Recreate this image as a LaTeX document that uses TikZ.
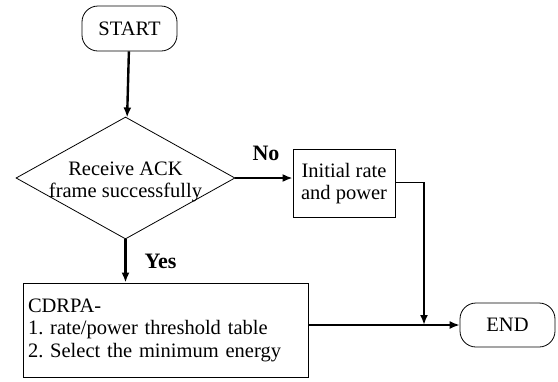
\documentclass[tikz,border=0pt]{standalone}
\usepackage{fontspec}
\setmainfont{Liberation Serif}
\usetikzlibrary{shapes.geometric,arrows.meta}
\begin{document}
\frenchspacing
\begin{tikzpicture}
          [x=1pt,y=-1pt,font=\fontsize{20.5}{22.5}\selectfont,
           every node/.style={draw, line width=0.8pt, inner sep = 0pt},
           term/.style={rounded corners=16pt, minimum width = 95pt},
           box/.style={rectangle},
           flow/.style={line width=2.4pt, -{Latex[length=10pt,width=8pt]}},
           lbl/.style={draw=none, font=\fontsize{22}{24}\selectfont\bfseries}]
        \useasboundingbox (0,0) rectangle (558,381);
        \node[term, minimum height = 45pt] (start) at (129.5,28.5) {START};
        \node[diamond, minimum width = 219pt, minimum height = 122pt] (dec) at (125.5,178) {};
        \node[draw=none, align=center] (dectext) at (125.5,182) {Receive ACK\\frame successfully};
        \node[box, minimum width = 102pt, minimum height = 68pt, align=center] (init) at (344,183.5)
          {Initial rate\\and power};
        \node[box, minimum width = 285pt, minimum height = 94pt, align=left, text width = 275pt] (cdrpa) at (165.5,330)
          {CDRPA-\\1. rate/power threshold table\\2. Select the minimum energy};
        \node[term, minimum height = 44pt] (end) at (507.5,325) {END};
        \coordinate (join) at (424,325);

        \node[lbl] (no) at (266,153) {No};
        \node[lbl] (yes) at (160.5,261) {Yes};

        \draw[flow] (start) -- (dec);
        \draw[flow] (dec.east) -- (init.west |- dec.east);
        \draw[flow] (dec.south) -- (dec.south |- cdrpa.north);
        \draw[line width=1pt] (init.east |- 0,182) -- (join |- 0,182);
        \draw[flow] (join |- 0,182) -- (join);
        \draw[line width=1.6pt, -{Latex[length=10pt,width=8pt]}] (cdrpa.east |- end) -- (end);
      \end{tikzpicture}
\end{document}
